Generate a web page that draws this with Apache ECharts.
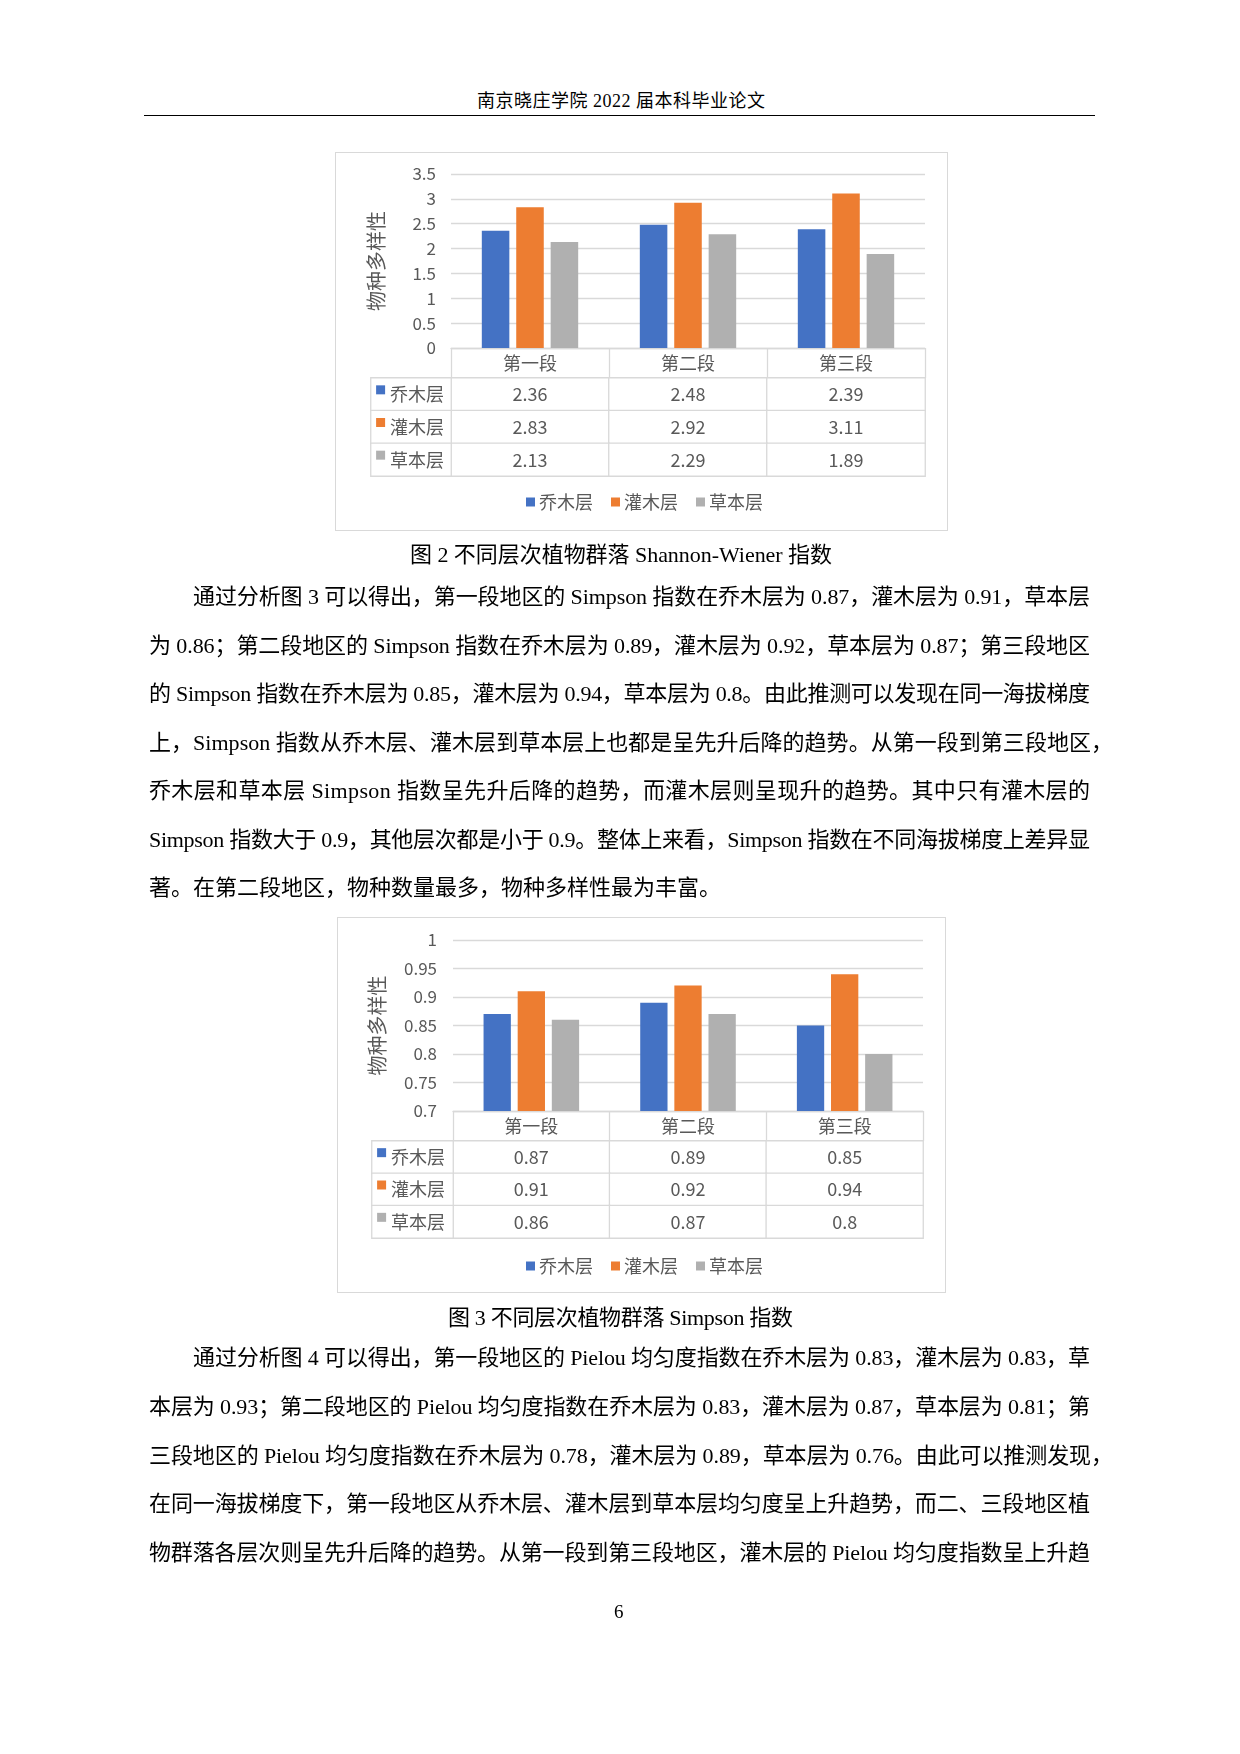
<!DOCTYPE html>
<html>
<head>
<meta charset="utf-8">
<title>物种多样性</title>
<script src="https://cdn.jsdelivr.net/npm/echarts@6/dist/echarts.min.js"></script>
<style>
  html, body { margin: 0; padding: 0; background: #fff; }
  #page { position: relative; width: 1240px; height: 1754px; overflow: hidden; background: #fff; }
  .ln { position: absolute; white-space: nowrap; color: #000;
        font-family: "Liberation Serif", "Noto Sans CJK SC", serif; }
  .ln span { display: inline-block; }
  .box { position: absolute; box-sizing: border-box; border: 1.5px solid #d9d9d9; }
  .chart { position: absolute; }
  #rule { position: absolute; left: 144px; top: 115px; width: 951px; border-top: 1.6px solid #000; }
</style>
</head>
<body>
<div id="page">
  <div id="rule"></div>
  <div class="box" style="left:335px;top:152px;width:613px;height:379px"></div>
  <div class="chart" id="chart1" style="left:335px;top:152px;width:613px;height:379px"></div>
  <div class="box" style="left:337px;top:917px;width:609px;height:376px"></div>
  <div class="chart" id="chart2" style="left:337px;top:917px;width:609px;height:376px"></div>
</div>
<script>
// 数据
const categories = ['第一段', '第二段', '第三段'];
const layers = ['乔木层', '灌木层', '草本层'];

const shannonArbor = [2.36, 2.48, 2.39];
const shannonShrub = [2.83, 2.92, 3.11];
const shannonHerb = [2.13, 2.29, 1.89];
const shannonTicks = [0, 0.5, 1, 1.5, 2, 2.5, 3, 3.5];

const simpsonArbor = [0.87, 0.89, 0.85];
const simpsonShrub = [0.91, 0.92, 0.94];
const simpsonHerb = [0.86, 0.87, 0.8];
const simpsonTicks = [0.7, 0.75, 0.8, 0.85, 0.9, 0.95, 1];

const yName = '物种多样性';

// 正文
const headerText = '南京晓庄学院 2022 届本科毕业论文';
const caption2 = '图  2 不同层次植物群落 Shannon-Wiener 指数';
const caption3 = '图 3 不同层次植物群落 Simpson 指数';
const para1 = [
  '通过分析图 3 可以得出，第一段地区的 Simpson 指数在乔木层为 0.87，灌木层为 0.91，草本层',
  '为 0.86；第二段地区的 Simpson 指数在乔木层为 0.89，灌木层为 0.92，草本层为 0.87；第三段地区',
  '的 Simpson 指数在乔木层为 0.85，灌木层为 0.94，草本层为 0.8。由此推测可以发现在同一海拔梯度',
  '上，Simpson 指数从乔木层、灌木层到草本层上也都是呈先升后降的趋势。从第一段到第三段地区，',
  '乔木层和草本层 Simpson 指数呈先升后降的趋势，而灌木层则呈现升的趋势。其中只有灌木层的',
  'Simpson 指数大于 0.9，其他层次都是小于 0.9。整体上来看，Simpson 指数在不同海拔梯度上差异显',
  '著。在第二段地区，物种数量最多，物种多样性最为丰富。'
];
const para2 = [
  '通过分析图 4 可以得出，第一段地区的 Pielou 均匀度指数在乔木层为 0.83，灌木层为 0.83，草',
  '本层为 0.93；第二段地区的 Pielou 均匀度指数在乔木层为 0.83，灌木层为 0.87，草本层为 0.81；第',
  '三段地区的 Pielou 均匀度指数在乔木层为 0.78，灌木层为 0.89，草本层为 0.76。由此可以推测发现，',
  '在同一海拔梯度下，第一段地区从乔木层、灌木层到草本层均匀度呈上升趋势，而二、三段地区植',
  '物群落各层次则呈先升后降的趋势。从第一段到第三段地区，灌木层的 Pielou 均匀度指数呈上升趋'
];
const pageNo = '6';

// 样式
const FONT = '"Noto Sans CJK SC", sans-serif';
const TXT = '#595959';
const LINE = '#d9d9d9';
const COLORS = ['#4472C4', '#ED7D31', '#B0B0B0'];

const page = document.getElementById('page');

function addLine(text, y, size, x0, x1) {
  const d = document.createElement('div');
  d.className = 'ln';
  d.style.fontSize = size + 'px';
  d.style.lineHeight = '60px';
  d.style.top = (y - 30) + 'px';
  d.style.left = x0 + 'px';
  const s = document.createElement('span');
  s.textContent = text;
  d.appendChild(s);
  page.appendChild(d);
  if (x1 != null) {
    const w = s.getBoundingClientRect().width;
    const n = Array.from(text).length;
    const ls = (x1 - x0 - w) / (n - 1);
    s.style.letterSpacing = ls + 'px';
  }
}

addLine(headerText, 101, 18, 477, 765);
addLine(caption2, 555, 22, 410, 832);
addLine(caption3, 1318, 22, 448, 793);

function addPara(lines, y0, pitch, last) {
  lines.forEach(function (t, i) {
    const x0 = i === 0 ? 193 : 149;
    let x1 = /，$/.test(t) ? 1113 : 1090;
    if (last && i === lines.length - 1) x1 = null;
    addLine(t, y0 + i * pitch, 22, x0, x1);
  });
}
addPara(para1, 597, 48.5, true);
addPara(para2, 1358, 48.75, false);
addLine(pageNo, 1612, 19, 614, null);

function makeOption(values, ticks, L) {
  const series = values.map(function (v, i) {
    return {
      type: 'bar',
      name: layers[i],
      data: v,
      xAxisIndex: 0,
      yAxisIndex: 0,
      barGap: '25%',
      barCategoryGap: '39%',
      itemStyle: { color: COLORS[i] },
      silent: true
    };
  });
  const cells = [];
  values.forEach(function (v, r) {
    v.forEach(function (val, c) { cells.push([c, r, val]); });
  });
  series.push({
    type: 'heatmap',
    name: 'table',
    xAxisIndex: 1,
    yAxisIndex: 1,
    data: cells,
    itemStyle: { borderColor: LINE, borderWidth: 1.3 },
    label: {
      show: true,
      fontFamily: FONT,
      fontSize: 18,
      color: TXT,
      formatter: function (p) { return String(p.data[2]); }
    },
    silent: true
  });
  series.push({
    type: 'heatmap',
    name: 'rowhead',
    xAxisIndex: 2,
    yAxisIndex: 2,
    data: layers.map(function (n, r) { return [0, r, 0]; }),
    itemStyle: { borderColor: LINE, borderWidth: 1.3 },
    label: {
      show: true,
      position: 'insideLeft',
      distance: 6,
      formatter: function (p) { return '{s' + p.data[1] + '|}{t|' + layers[p.data[1]] + '}'; },
      rich: {
        s0: { width: 9, height: 9, backgroundColor: COLORS[0], verticalAlign: 'top' },
        s1: { width: 9, height: 9, backgroundColor: COLORS[1], verticalAlign: 'top' },
        s2: { width: 9, height: 9, backgroundColor: COLORS[2], verticalAlign: 'top' },
        t: { fontFamily: FONT, fontSize: 18, color: TXT, padding: [0, 0, 0, 5] }
      }
    },
    silent: true
  });

  return {
    animation: false,
    textStyle: { fontFamily: FONT },
    grid: [
      { left: L.plotLeft, top: L.plotTop, width: L.plotW, height: L.plotH, outerBoundsMode: 'none' },
      { left: L.plotLeft, top: L.plotTop + L.plotH + L.headH, width: L.plotW, height: L.tableH, outerBoundsMode: 'none' },
      { left: L.labelLeft, top: L.plotTop + L.plotH + L.headH, width: L.plotLeft - L.labelLeft, height: L.tableH, outerBoundsMode: 'none' }
    ],
    xAxis: [
      {
        gridIndex: 0, type: 'category', data: categories,
        axisLine: { lineStyle: { color: LINE, width: 1.3 } },
        axisTick: { show: true, interval: 0, length: L.headH, lineStyle: { color: LINE, width: 1.3 } },
        axisLabel: { margin: 6, fontSize: 18, color: TXT, fontFamily: FONT, interval: 0 }
      },
      { gridIndex: 1, type: 'category', data: categories, show: false },
      { gridIndex: 2, type: 'category', data: [''], show: false }
    ],
    yAxis: [
      {
        gridIndex: 0, type: 'value',
        min: ticks[0], max: ticks[ticks.length - 1], interval: ticks[1] - ticks[0],
        name: yName, nameLocation: 'middle', nameGap: L.nameGap, nameMoveOverlap: false,
        nameTextStyle: { fontSize: 20, color: TXT, fontFamily: FONT },
        axisLine: { show: false }, axisTick: { show: false },
        axisLabel: {
          margin: L.yLabelGap, fontSize: 17, color: TXT, fontFamily: FONT,
          formatter: function (v) { return String(+v.toFixed(2)); }
        },
        splitLine: { show: true, lineStyle: { color: LINE, width: 1.3 } }
      },
      { gridIndex: 1, type: 'category', data: layers, inverse: true, show: false },
      { gridIndex: 2, type: 'category', data: layers, inverse: true, show: false }
    ],
    visualMap: {
      show: false, type: 'continuous', min: 0, max: 10, seriesIndex: [3, 4],
      inRange: { color: ['#ffffff', '#ffffff'] }
    },
    legend: {
      data: layers,
      left: L.legendLeft,
      top: L.legendTop,
      orient: 'horizontal',
      icon: 'rect',
      itemWidth: 9,
      itemHeight: 9,
      itemGap: 18,
      selectedMode: false,
      textStyle: { fontSize: 18, color: TXT, fontFamily: FONT, padding: [0, 0, 0, -1] }
    },
    series: series
  };
}

const lay1 = { plotLeft: 116, plotTop: 22, plotW: 474, plotH: 174, headH: 30, tableH: 98, labelLeft: 36, yLabelGap: 15, nameGap: 65, legendLeft: 186, legendTop: 336 };
const lay2 = { plotLeft: 116, plotTop: 23, plotW: 470, plotH: 171, headH: 30, tableH: 97, labelLeft: 35, yLabelGap: 16, nameGap: 66, legendLeft: 184, legendTop: 335 };

const c1 = echarts.init(document.getElementById('chart1'), null, { renderer: 'canvas' });
c1.setOption(makeOption([shannonArbor, shannonShrub, shannonHerb], shannonTicks, lay1));
const c2 = echarts.init(document.getElementById('chart2'), null, { renderer: 'canvas' });
c2.setOption(makeOption([simpsonArbor, simpsonShrub, simpsonHerb], simpsonTicks, lay2));
</script>
</body>
</html>
